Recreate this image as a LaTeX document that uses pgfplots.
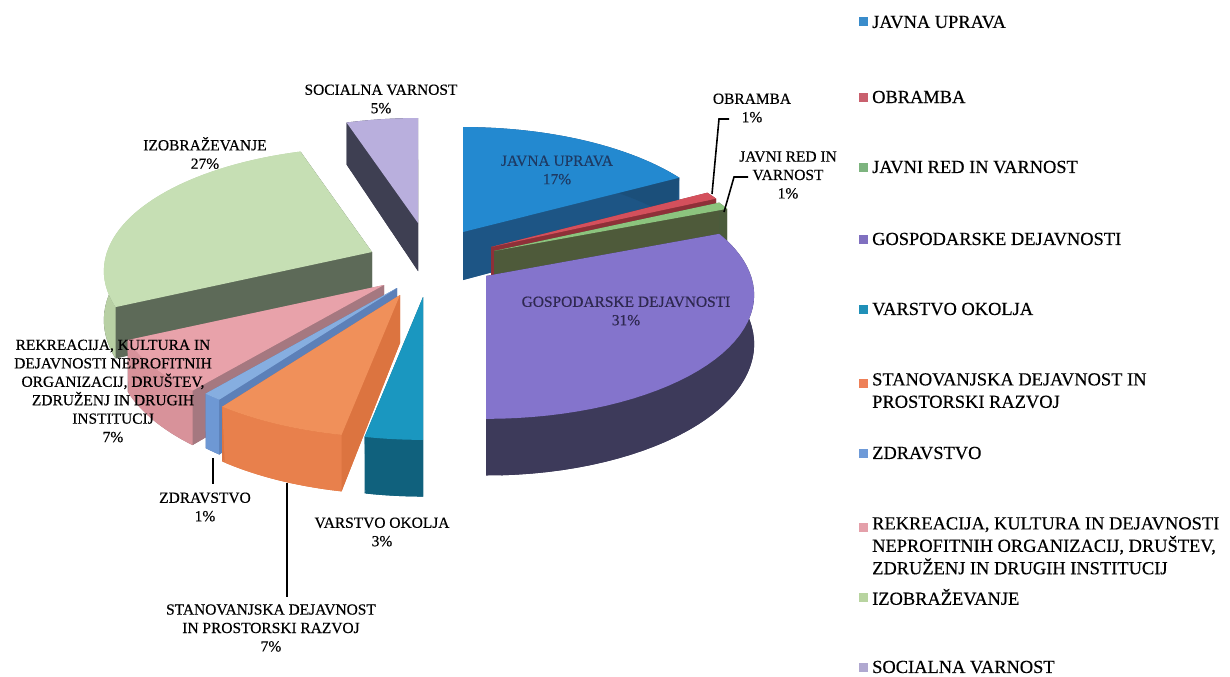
\documentclass[border=0pt]{standalone}
\usepackage{pgfplots}
\pgfplotsset{compat=1.18}
\usepackage{pgfplotstable}
\usepackage{fontspec}
\setmainfont{Liberation Serif}[FakeBold=0.4]

% top face / outer wall / radial face colours
\definecolor{tJU}{HTML}{2389D0}\definecolor{wJU}{HTML}{1B4F7A}\definecolor{sJU}{HTML}{1D5585}
\definecolor{tOB}{HTML}{D4505C}\definecolor{wOB}{HTML}{8E3038}\definecolor{sOB}{HTML}{8E3038}
\definecolor{tJR}{HTML}{8CC47E}\definecolor{wJR}{HTML}{4B5B3B}\definecolor{sJR}{HTML}{4E5A3A}
\definecolor{tGD}{HTML}{8474CC}\definecolor{wGD}{HTML}{3D3A5A}\definecolor{sGD}{HTML}{3D3A5A}
\definecolor{tVO}{HTML}{1A97C0}\definecolor{wVO}{HTML}{10617D}\definecolor{sVO}{HTML}{10617D}
\definecolor{tSD}{HTML}{F0905A}\definecolor{wSD}{HTML}{E8804C}\definecolor{sSD}{HTML}{DC7440}
\definecolor{tZD}{HTML}{86AEE0}\definecolor{wZD}{HTML}{6E98D4}\definecolor{sZD}{HTML}{5C80B8}
\definecolor{tRK}{HTML}{E8A2AA}\definecolor{wRK}{HTML}{D8929A}\definecolor{sRK}{HTML}{A57880}
\definecolor{tIZ}{HTML}{C6DFB4}\definecolor{wIZ}{HTML}{B8D0A4}\definecolor{sIZ}{HTML}{5D6A58}
\definecolor{tSV}{HTML}{B9AFDD}\definecolor{wSV}{HTML}{3E3F52}\definecolor{sSV}{HTML}{3E3F52}
\definecolor{lJU}{HTML}{3A8CCB}\definecolor{lOB}{HTML}{C9606E}
\definecolor{lJR}{HTML}{7DB47F}\definecolor{lGD}{HTML}{8070C0}
\definecolor{lVO}{HTML}{2090B8}\definecolor{lSD}{HTML}{EE8058}
\definecolor{lZD}{HTML}{6E9AD8}\definecolor{lRK}{HTML}{E4A0AA}
\definecolor{lIZ}{HTML}{B8D4A0}\definecolor{lSV}{HTML}{B0A8D0}
\definecolor{inJU}{HTML}{1E3A64}\definecolor{inGD}{HTML}{2E2850}

% percent, cumulative start (percent), slice centre (px, y downwards)
\pgfplotstableread{
id pct start cx cy top wall side
JU 17 0 463 232 tJU wJU sJU
OB 1 17 491 247 tOB wOB sOB
JR 1 18 494 251 tJR wJR sJR
GD 31 19 486 276 tGD wGD sGD
VO 3 50 423 297 tVO wVO sVO
SD 7 53 400 295 tSD wSD sSD
ZD 1 60 397 288 tZD wZD sZD
RK 7 61 384 285 tRK wRK sRK
IZ 27 68 372 252 tIZ wIZ sIZ
SV 5 95 418 223 tSV wSV sSV
}\slices

\begin{document}
\begin{tikzpicture}[
  lbl/.style={font=\fontsize{15.5}{18.5}\selectfont, align=center, inner sep=0pt},
  leg/.style={font=\fontsize{18.5}{22.5}\selectfont, align=left, anchor=west, inner sep=0pt},
]
\begin{axis}[
  scale only axis, width=1230bp, height=676bp,
  xmin=0, xmax=1230, ymin=0, ymax=676, y dir=reverse,
  hide axis, clip=false,
  declare function={
    px(\a)=265*sin(\a)/(1+0.153*cos(\a));
    py(\a)=-121*cos(\a)/(1+0.153*cos(\a));
    pd(\a)=48/(1+0.153*cos(\a));
  },
]
\coordinate (ll) at (axis cs:0,676);
\coordinate (ur) at (axis cs:1230,0);

\pgfplotsforeachungrouped \i in {9,0,1,2,8,3,7,6,5,4}{%
  \pgfplotstablegetelem{\i}{pct}\of\slices \let\P\pgfplotsretval
  \pgfplotstablegetelem{\i}{start}\of\slices \let\S\pgfplotsretval
  \pgfplotstablegetelem{\i}{cx}\of\slices \let\CX\pgfplotsretval
  \pgfplotstablegetelem{\i}{cy}\of\slices \let\CY\pgfplotsretval
  \pgfplotstablegetelem{\i}{top}\of\slices \let\T\pgfplotsretval
  \pgfplotstablegetelem{\i}{wall}\of\slices \let\W\pgfplotsretval
  \pgfplotstablegetelem{\i}{side}\of\slices \let\R\pgfplotsretval
  \pgfmathsetmacro\Aa{\S*3.6}%
  \pgfmathsetmacro\Ab{(\S+\P)*3.6}%
  \pgfmathsetmacro\CYB{\CY+48}%
  \edef\doslice{%
    \noexpand\addplot[fill=\R,draw=none,domain=\Aa:\Ab,samples=40] ({\CX+px(x)},{\CY+py(x)+pd(x)}) -- (\CX,\CYB) -- cycle;
    \noexpand\addplot[fill=\R,draw=none,samples at={0,1,2,3}] ({\CX+and(x>0.5,x<2.5)*px(\Aa)},{\CY+and(x>0.5,x<1.5)*py(\Aa)+and(x>1.5,x<2.5)*(py(\Aa)+pd(\Aa))+(x>2.5)*48}) -- cycle;
    \noexpand\addplot[fill=\R,draw=none,samples at={0,1,2,3}] ({\CX+and(x>0.5,x<2.5)*px(\Ab)},{\CY+and(x>0.5,x<1.5)*py(\Ab)+and(x>1.5,x<2.5)*(py(\Ab)+pd(\Ab))+(x>2.5)*48}) -- cycle;
    \noexpand\addplot[fill=\W,draw=none,domain=0:2,samples=81] ({\CX+px(\Aa+(\Ab-\Aa)*(1-abs(1-x)))},{\CY+py(\Aa+(\Ab-\Aa)*(1-abs(1-x)))+(x>1)*pd(\Aa+(\Ab-\Aa)*(1-abs(1-x)))}) -- cycle;
    \noexpand\addplot[fill=\T,draw=none,domain=\Aa:\Ab,samples=40] ({\CX+px(x)},{\CY+py(x)}) -- (\CX,\CY) -- cycle;
  }\doslice
}

% data labels
\node[lbl] at (axis cs:381,99) {SOCIALNA VARNOST\\5\%};
\node[lbl] at (axis cs:205,153) {IZOBRAŽEVANJE\\27\%};
\node[lbl, text=inJU] at (axis cs:557,170) {JAVNA UPRAVA\\17\%};
\node[lbl, text=inGD] at (axis cs:626,311) {GOSPODARSKE DEJAVNOSTI\\31\%};
\node[lbl] at (axis cs:752,108) {OBRAMBA\\1\%};
\node[lbl] at (axis cs:788,175) {JAVNI RED IN\\VARNOST\\1\%};
\node[lbl] at (axis cs:113,391) {REKREACIJA, KULTURA IN\\DEJAVNOSTI NEPROFITNIH\\ORGANIZACIJ, DRUŠTEV,\\ZDRUŽENJ IN DRUGIH\\INSTITUCIJ\\7\%};
\node[lbl] at (axis cs:205,507) {ZDRAVSTVO\\1\%};
\node[lbl] at (axis cs:382,532) {VARSTVO OKOLJA\\3\%};
\node[lbl] at (axis cs:271,628) {STANOVANJSKA DEJAVNOST\\IN PROSTORSKI RAZVOJ\\7\%};
% leader lines
\draw[line width=1.6pt] (axis cs:729,119) -- (axis cs:719,119) -- (axis cs:712,194);
\draw[line width=1.6pt] (axis cs:748,177) -- (axis cs:734,177) -- (axis cs:724,212);
\draw[line width=1.6pt] (axis cs:213,458) -- (axis cs:213,484);
\draw[line width=1.6pt] (axis cs:287,483) -- (axis cs:287,597);

% legend
\fill[lJU] (axis cs:859,17.5) rectangle (axis cs:868,26.5);
\node[leg] at (axis cs:872,22) {JAVNA UPRAVA};
\fill[lOB] (axis cs:859,92.5) rectangle (axis cs:868,101.5);
\node[leg] at (axis cs:872,97) {OBRAMBA};
\fill[lJR] (axis cs:859,162.5) rectangle (axis cs:868,171.5);
\node[leg] at (axis cs:872,167) {JAVNI RED IN VARNOST};
\fill[lGD] (axis cs:859,234.5) rectangle (axis cs:868,243.5);
\node[leg] at (axis cs:872,239) {GOSPODARSKE DEJAVNOSTI};
\fill[lVO] (axis cs:859,304.5) rectangle (axis cs:868,313.5);
\node[leg] at (axis cs:872,309) {VARSTVO OKOLJA};
\fill[lSD] (axis cs:859,378.5) rectangle (axis cs:868,387.5);
\node[leg, anchor=north west] at (axis cs:872,373) {STANOVANJSKA DEJAVNOST IN\\PROSTORSKI RAZVOJ};
\fill[lZD] (axis cs:859,448.5) rectangle (axis cs:868,457.5);
\node[leg] at (axis cs:872,453) {ZDRAVSTVO};
\fill[lRK] (axis cs:859,522.5) rectangle (axis cs:868,531.5);
\node[leg, anchor=north west] at (axis cs:872,517) {REKREACIJA, KULTURA IN DEJAVNOSTI\\NEPROFITNIH ORGANIZACIJ, DRUŠTEV,\\ZDRUŽENJ IN DRUGIH INSTITUCIJ};
\fill[lIZ] (axis cs:859,592.5) rectangle (axis cs:868,601.5);
\node[leg] at (axis cs:872,597) {IZOBRAŽEVANJE};
\fill[lSV] (axis cs:859,662.5) rectangle (axis cs:868,671.5);
\node[leg] at (axis cs:872,667) {SOCIALNA VARNOST};
\end{axis}
\pgfresetboundingbox
\useasboundingbox (ll) rectangle (ur);
\end{tikzpicture}
\end{document}
